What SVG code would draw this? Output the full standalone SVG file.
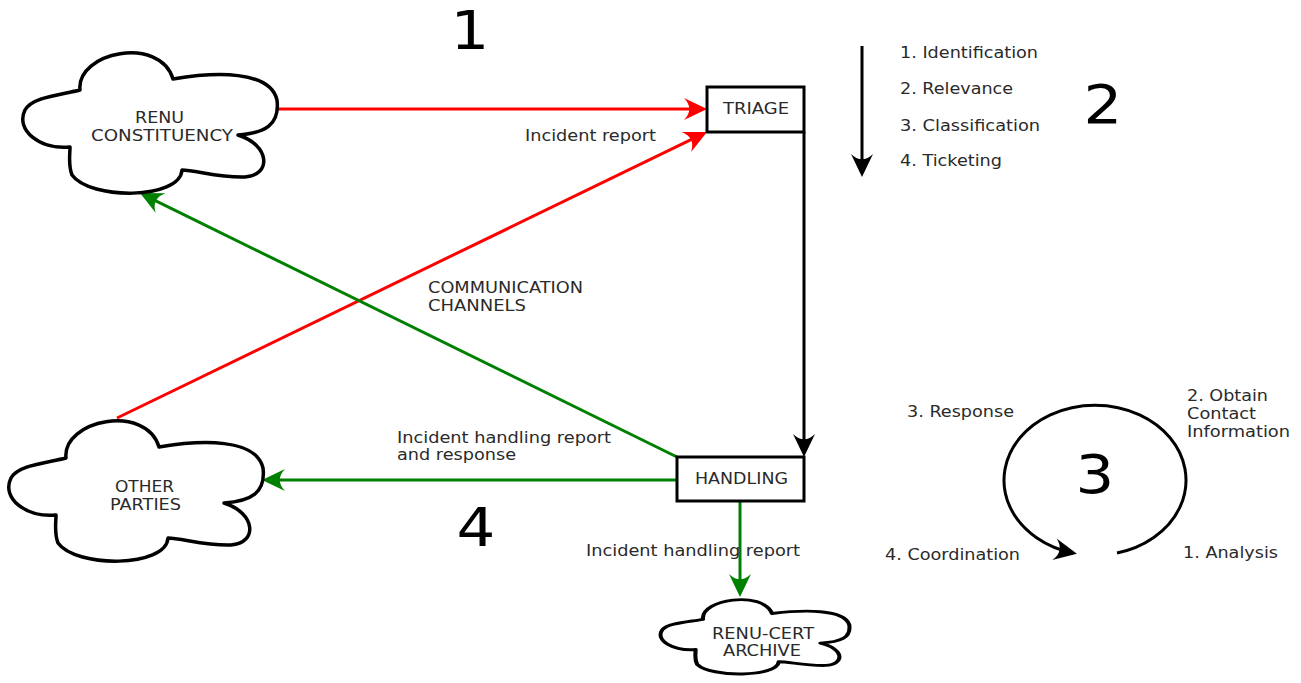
<svg xmlns="http://www.w3.org/2000/svg" width="1301" height="683" viewBox="0 0 1301 683">
<style>
.lbl{font-family:"DejaVu Sans","Liberation Sans",sans-serif;font-size:16px;fill:#2a2a2a}
.big{font-family:"DejaVu Sans","Liberation Sans",sans-serif;font-size:53px;fill:#000;text-anchor:middle}
.cloud{fill:#fff;stroke:#000;stroke-width:3.5;stroke-linejoin:round}
.box{fill:#fff;stroke:#000;stroke-width:3}
.red{stroke:#ff0000;stroke-width:3;fill:none}
.green{stroke:#008000;stroke-width:3;fill:none}
.black{stroke:#000;stroke-width:3;fill:none}
</style>
<defs>
<path id="cloudShape" d="M80,90 C76,52 160,35 173,79 C215,72 270,70 277,100 C280,125 265,133 238,135 C270,145 272,175 245,177 C220,178 195,170 182,170 C180,200 90,200 72,175 C68,165 70,155 70,147 C40,150 15,130 25,110 C32,97 60,95 80,90 Z"/>
<marker id="ahR" viewBox="-27 -15 32 30" markerWidth="32" markerHeight="30" refX="-4" refY="0" orient="auto" markerUnits="userSpaceOnUse"><path d="M0,0 L-23,-11 C-16,-4 -16,4 -23,11 Z" fill="#ff0000"/></marker>
<marker id="ahG" viewBox="-27 -15 32 30" markerWidth="32" markerHeight="30" refX="-4" refY="0" orient="auto" markerUnits="userSpaceOnUse"><path d="M0,0 L-23,-11 C-16,-4 -16,4 -23,11 Z" fill="#008000"/></marker>
<marker id="ahK" viewBox="-27 -15 32 30" markerWidth="32" markerHeight="30" refX="-4" refY="0" orient="auto" markerUnits="userSpaceOnUse"><path d="M0,0 L-23,-11 C-16,-4 -16,4 -23,11 Z" fill="#000"/></marker>
</defs>

<g id="connectors">
<path class="red" d="M277,109 L703,109" marker-end="url(#ahR)"/>
<path class="red" d="M117,418 L703.4,133.7" marker-end="url(#ahR)"/>
<path class="black" d="M804,132 L804,453" marker-end="url(#ahK)"/>
<path class="green" d="M677,457 L143.6,194.8" marker-end="url(#ahG)"/>
<path class="green" d="M677,480 L266,480" marker-end="url(#ahG)"/>
<path class="green" d="M740,501 L740,593" marker-end="url(#ahG)"/>
</g>

<g id="renu-constituency">
<use href="#cloudShape" class="cloud"/>
<text class="lbl" x="135" y="123" textLength="49" lengthAdjust="spacingAndGlyphs">RENU</text>
<text class="lbl" x="91" y="141" textLength="142" lengthAdjust="spacingAndGlyphs">CONSTITUENCY</text>
</g>

<g id="other-parties">
<use href="#cloudShape" class="cloud" transform="translate(-14,368)"/>
<text class="lbl" x="115" y="492" textLength="59" lengthAdjust="spacingAndGlyphs">OTHER</text>
<text class="lbl" x="110" y="510" textLength="71" lengthAdjust="spacingAndGlyphs">PARTIES</text>
</g>

<g id="renu-cert-archive">
<use href="#cloudShape" class="cloud" transform="translate(643.7,571.6) scale(0.742,0.53)" style="stroke-width:5.5"/>
<text class="lbl" x="712" y="639" textLength="102" lengthAdjust="spacingAndGlyphs">RENU-CERT</text>
<text class="lbl" x="723" y="656" textLength="78" lengthAdjust="spacingAndGlyphs">ARCHIVE</text>
</g>

<g id="triage">
<rect class="box" x="707" y="87" width="97" height="45"/>
<text class="lbl" x="723" y="114" textLength="66" lengthAdjust="spacingAndGlyphs">TRIAGE</text>
</g>

<g id="handling">
<rect class="box" x="677" y="457" width="127" height="44"/>
<text class="lbl" x="695" y="484" textLength="93" lengthAdjust="spacingAndGlyphs">HANDLING</text>
</g>

<g id="labels">
<text class="lbl" x="525" y="141" textLength="131" lengthAdjust="spacingAndGlyphs">Incident report</text>
<text class="lbl" x="428" y="293" textLength="155" lengthAdjust="spacingAndGlyphs">COMMUNICATION</text>
<text class="lbl" x="428" y="311" textLength="98" lengthAdjust="spacingAndGlyphs">CHANNELS</text>
<text class="lbl" x="397" y="443" textLength="214" lengthAdjust="spacingAndGlyphs">Incident handling report</text>
<text class="lbl" x="397" y="460" textLength="119" lengthAdjust="spacingAndGlyphs">and response</text>
<text class="lbl" x="586" y="556" textLength="214" lengthAdjust="spacingAndGlyphs">Incident handling report</text>
</g>

<g id="step-numbers">
<text class="big" transform="translate(470,49) scale(1.15,1)">1</text>
<text class="big" transform="translate(1103,123) scale(1.15,1)">2</text>
<text class="big" transform="translate(1095,493) scale(1.15,1)">3</text>
<text class="big" transform="translate(476,546) scale(1.15,1)">4</text>
</g>

<g id="triage-steps">
<path class="black" d="M862,46 L862,173" marker-end="url(#ahK)"/>
<text class="lbl" x="900" y="58" textLength="138" lengthAdjust="spacingAndGlyphs">1. Identification</text>
<text class="lbl" x="900" y="94" textLength="113" lengthAdjust="spacingAndGlyphs">2. Relevance</text>
<text class="lbl" x="900" y="131" textLength="140" lengthAdjust="spacingAndGlyphs">3. Classification</text>
<text class="lbl" x="900" y="166" textLength="102" lengthAdjust="spacingAndGlyphs">4. Ticketing</text>
</g>

<g id="handling-cycle">
<path class="black" d="M1117,553 A91,75 0 1 0 1073,553" marker-end="url(#ahK)"/>
<text class="lbl" x="907" y="417" textLength="107" lengthAdjust="spacingAndGlyphs">3. Response</text>
<text class="lbl" x="1187" y="401" textLength="81" lengthAdjust="spacingAndGlyphs">2. Obtain</text>
<text class="lbl" x="1187" y="419" textLength="69" lengthAdjust="spacingAndGlyphs">Contact</text>
<text class="lbl" x="1187" y="437" textLength="103" lengthAdjust="spacingAndGlyphs">Information</text>
<text class="lbl" x="885" y="560" textLength="135" lengthAdjust="spacingAndGlyphs">4. Coordination</text>
<text class="lbl" x="1183" y="558" textLength="95" lengthAdjust="spacingAndGlyphs">1. Analysis</text>
</g>
</svg>
